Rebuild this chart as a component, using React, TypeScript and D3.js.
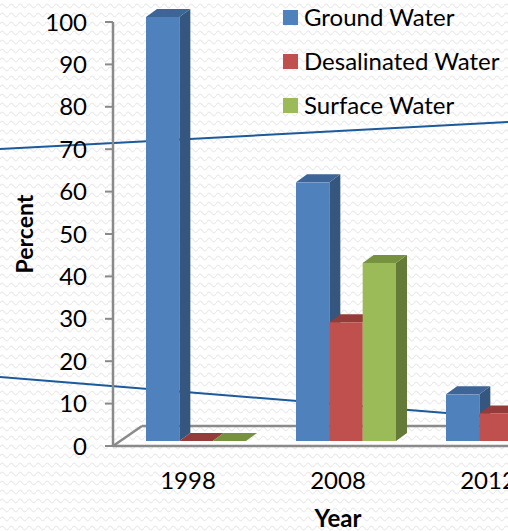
import React from 'react';
import * as d3 from 'd3';

// Water source shares by year (percent)
const categories = ['1998', '2008', '2012'];
const seriesNames = ['Ground Water', 'Desalinated Water', 'Surface Water'];
const groundWater = [100, 61, 11];
const desalinatedWater = [0, 28, 6.5];
const surfaceWater = [0, 42, 80];
const yTicks = [0, 10, 20, 30, 40, 50, 60, 70, 80, 90, 100];

const seriesValues = [groundWater, desalinatedWater, surfaceWater];

// front / top / side shades for each series
const palette = [
  { front: '#4F81BD', top: '#3D6597', side: '#34567F' },
  { front: '#C0504D', top: '#943C3A', side: '#8A3735' },
  { front: '#9BBB59', top: '#77923F', side: '#637B36' },
];

const W = 508;
const H = 531;
const FONT = 'Lato, "Open Sans", sans-serif';

// oblique projection offsets
const FLOOR_DEPTH = { dx: 29, dy: -20 };
const BAR_FRONT = { dx: 8, dy: -5 };
const BAR_DEPTH = { dx: 11, dy: -8 };

const axisX = 113;
const floorY = 446;

export default function App() {
  const y = d3.scaleLinear().domain([0, 100]).range([floorY, 22]);
  const x = d3
    .scaleBand<string>()
    .domain(categories)
    .range([axisX, axisX + 450])
    .paddingInner(1 / 3)
    .paddingOuter(1 / 6);
  const xi = d3.scaleBand<string>().domain(seriesNames).range([0, x.bandwidth()]);

  const bars: React.ReactNode[] = [];
  categories.forEach((cat, ci) => {
    seriesNames.forEach((name, si) => {
      const v = seriesValues[si][ci];
      const x0 = (x(cat) ?? 0) + (xi(name) ?? 0) + BAR_FRONT.dx;
      const x1 = x0 + xi.bandwidth();
      const yb = y(0) + BAR_FRONT.dy;
      const yt = y(v) + BAR_FRONT.dy;
      const { dx, dy } = BAR_DEPTH;
      const c = palette[si];
      const side = `M${x1},${yt} L${x1 + dx},${yt + dy} L${x1 + dx},${yb + dy} L${x1},${yb} Z`;
      const top = `M${x0},${yt} L${x0 + dx},${yt + dy} L${x1 + dx},${yt + dy} L${x1},${yt} Z`;
      bars.push(
        <g key={`${cat}-${name}`}>
          <path d={side} fill={c.side} />
          <path d={top} fill={c.top} />
          {v > 0 && <rect x={x0} y={yt} width={x1 - x0} height={yb - yt} fill={c.front} />}
        </g>
      );
    });
  });

  const floorColor = '#8a8a8a';

  return (
    <svg
      width={W}
      height={H}
      style={{ position: 'absolute', left: 0, top: 0, background: '#fff' }}
      fontFamily={FONT}
    >
      <defs>
        <pattern id="waves" width={9} height={9} patternUnits="userSpaceOnUse">
          <path d="M0,6 Q2.25,2.5 4.5,6 T9,6" fill="none" stroke="#ececec" strokeWidth={1.3} />
        </pattern>
      </defs>
      <rect width={W} height={H} fill="#fff" />
      <rect width={W} height={H} fill="url(#waves)" />

      {/* decorative background strokes */}
      <line x1={0} y1={149} x2={W} y2={122} stroke="#1B5A9B" strokeWidth={2} />
      <line x1={0} y1={377} x2={W} y2={418} stroke="#1B5A9B" strokeWidth={2} />

      {/* floor */}
      <g stroke={floorColor} strokeWidth={2.5} fill="none">
        <line x1={axisX} y1={floorY} x2={W + 10} y2={floorY} />
        <line
          x1={axisX}
          y1={floorY}
          x2={axisX + FLOOR_DEPTH.dx}
          y2={floorY + FLOOR_DEPTH.dy}
        />
        <line
          x1={axisX + FLOOR_DEPTH.dx}
          y1={floorY + FLOOR_DEPTH.dy}
          x2={W + 10}
          y2={floorY + FLOOR_DEPTH.dy}
        />
      </g>

      {/* value axis */}
      <line x1={axisX} y1={y(100)} x2={axisX} y2={floorY} stroke={floorColor} strokeWidth={2.5} />
      {yTicks.map((t) => (
        <g key={t}>
          <line x1={axisX - 8} x2={axisX} y1={y(t)} y2={y(t)} stroke={floorColor} strokeWidth={2} />
          <text
            x={87}
            y={y(t)}
            dy="0.36em"
            textAnchor="end"
            fontSize={24}
            fill="#000"
          >
            {t}
          </text>
        </g>
      ))}

      {bars}

      {/* category labels */}
      {categories.map((cat) => (
        <text
          key={cat}
          x={(x(cat) ?? 0) + x.bandwidth() / 2}
          y={489}
          textAnchor="middle"
          fontSize={24}
          fill="#000"
        >
          {cat}
        </text>
      ))}

      {/* axis titles */}
      <text x={338} y={527} textAnchor="middle" fontSize={24} fontWeight="bold" fill="#000">
        Year
      </text>
      <text
        transform="translate(33,234) rotate(-90)"
        textAnchor="middle"
        fontSize={23}
        fontWeight="bold"
        fill="#000"
      >
        Percent
      </text>

      {/* legend */}
      {seriesNames.map((name, i) => (
        <g key={name} transform={`translate(283,${17.5 + i * 44})`}>
          <rect x={0} y={-7.5} width={15} height={15} fill={palette[i].front} />
          <text x={21} y={0} dy="0.36em" fontSize={24} fill="#000">
            {name}
          </text>
        </g>
      ))}
    </svg>
  );
}
